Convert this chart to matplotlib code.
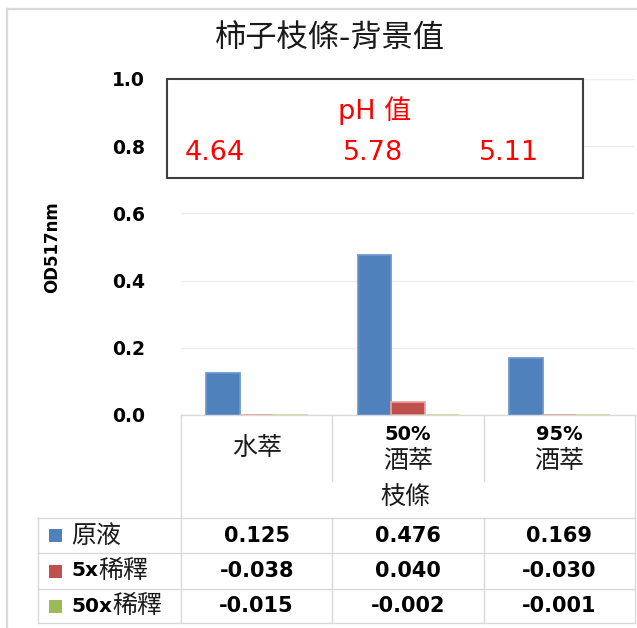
import re
import numpy as np
import matplotlib
matplotlib.use('Agg')
import matplotlib.pyplot as plt
from matplotlib.lines import Line2D
from matplotlib.patches import Rectangle
from matplotlib import transforms

plt.rcParams['font.family'] = ['DejaVu Sans', 'Noto Sans CJK TC']

# ---- data ----
title = '柿子枝條-背景值'
y_label = 'OD517nm'
x_title = '枝條'
category_top = ['', '50%', '95%']
category_bottom = ['水萃', '酒萃', '酒萃']
series_names = ['原液', '5x稀釋', '50x稀釋']
raw = [0.125, 0.476, 0.169]
dil_5x = [-0.038, 0.040, -0.030]
dil_50x = [-0.015, -0.002, -0.001]
ph_title = 'pH 值'
ph_values = [4.64, 5.78, 5.11]
y_ticks = [0.0, 0.2, 0.4, 0.6, 0.8, 1.0]

# ---- styling ----
colors = ['#4F81BD', '#C0504D', '#9BBB59']
edges = ['#6E98CC', '#E6A3A1', '#C9DCA0']
grid_col = '#D9D9D9'
cjk_size = 18

W, H = 637, 628
fig = plt.figure(figsize=(W / 100, H / 100), dpi=100)
fig.patch.set_facecolor('white')


def fx(px):
    return px / W


def fy(py):
    return 1 - py / H


def fline(xs, ys, transform=None, color=grid_col, lw=1.0, z=2):
    fig.add_artist(Line2D(xs, ys, transform=transform or fig.transFigure,
                          color=color, lw=lw, zorder=z))


# outer chart frame
fline([fx(7), fx(7)], [fy(9), fy(640)], lw=1.6)
fline([fx(7), fx(650)], [fy(9), fy(9)], lw=1.6)

# ---- plot area ----
ax = fig.add_axes([fx(181), fy(415), fx(635) - fx(181), fy(79) - fy(415)])
x = np.arange(len(category_bottom))
width = 0.222
for k, (vals, c, e) in enumerate(zip([raw, dil_5x, dil_50x], colors, edges)):
    ax.bar(x + (k - 1) * width, vals, width, color=c, edgecolor=e,
           linewidth=1.3, zorder=3)

ax.set_xlim(-0.5, len(x) - 0.5)
ax.set_ylim(0, 1.0)
ax.set_yticks(y_ticks)
ax.set_yticklabels([f'{t:.1f}' for t in y_ticks], fontweight='bold',
                   fontsize=13.5, color='black')
ax.tick_params(axis='y', length=0, pad=26)
ax.set_xticks([])
for s in ['left', 'right', 'top']:
    ax.spines[s].set_visible(False)
ax.spines['bottom'].set_color(grid_col)
ax.spines['bottom'].set_linewidth(1.0)
ax.set_axisbelow(True)
ax.yaxis.grid(True, color='#ECECEC', lw=1.0)

fig.text(fx(52), fy(247), y_label, rotation=90, ha='center', va='center',
         fontsize=12, fontweight='bold', color='black')

# title
fig.text(fx(330), fy(39), title, ha='center', va='center', fontsize=22.5,
         color='#1A1A1A')

# ---- pH annotation box ----
fig.add_artist(Rectangle((fx(167), fy(178)), fx(583) - fx(167), fy(79) - fy(178),
                         transform=fig.transFigure, facecolor='white',
                         edgecolor='#3F3F3F', lw=1.5, zorder=5))
fig.text(fx(375), fy(111), ph_title, ha='center', va='center', fontsize=19.5,
         color='#FF0000', zorder=6)
ph_x = [215, 373, 509]
for px, v in zip(ph_x, ph_values):
    fig.text(fx(px), fy(153), f'{v:.2f}', ha='center', va='center',
             fontsize=19.5, color='#FF0000', zorder=6)

# ---- category header and data table ----
trans = transforms.blended_transform_factory(ax.transData, fig.transFigure)
bounds = np.arange(len(x) + 1) - 0.5

# header cell borders
for b in bounds:
    if b in (bounds[0], bounds[-1]):
        fline([b, b], [fy(415), fy(623)], transform=trans)
    else:
        fline([b, b], [fy(415), fy(481)], transform=trans)
        fline([b, b], [fy(518), fy(623)], transform=trans)

# table grid
for yy in [518, 553, 589, 623]:
    fline([fx(38), fx(635)], [fy(yy), fy(yy)])
fline([fx(38), fx(38)], [fy(518), fy(623)])

for i, (top, bot) in enumerate(zip(category_top, category_bottom)):
    if top:
        fig.text(i, fy(434), top, transform=trans, ha='center', va='center',
                 fontsize=14, fontweight='bold', color='black')
        fig.text(i, fy(461), bot, transform=trans, ha='center', va='center',
                 fontsize=cjk_size, color='#1A1A1A')
    else:
        fig.text(i, fy(448), bot, transform=trans, ha='center', va='center',
                 fontsize=cjk_size, color='#1A1A1A')

fig.text((len(x) - 1) / 2 - 0.015, fy(498), x_title, transform=trans,
         ha='center', va='center', fontsize=cjk_size, color='#1A1A1A')

row_y = [535.5, 571, 606]
renderer = fig.canvas.get_renderer()
for name, vals, c, yy in zip(series_names, [raw, dil_5x, dil_50x], colors, row_y):
    fig.add_artist(Rectangle((fx(49), fy(yy + 6.5)), fx(13), 13 / H,
                             transform=fig.transFigure, facecolor=c,
                             edgecolor='none', zorder=4))
    latin, cjk = re.match(r'([0-9A-Za-z]*)(.*)', name).groups()
    x_next = 71
    if latin:
        t = fig.text(fx(71), fy(yy), latin, ha='left', va='center',
                     fontsize=14.5, fontweight='bold', color='black')
        x_next = t.get_window_extent(renderer).x1
    fig.text(fx(x_next), fy(yy), cjk, ha='left', va='center', fontsize=cjk_size,
             color='#1A1A1A')
    for i, v in enumerate(vals):
        fig.text(i, fy(yy), f'{v:.3f}', transform=trans, ha='center',
                 va='center', fontsize=15, fontweight='bold', color='black')

fig.savefig('out.png', dpi=100, facecolor='white')
